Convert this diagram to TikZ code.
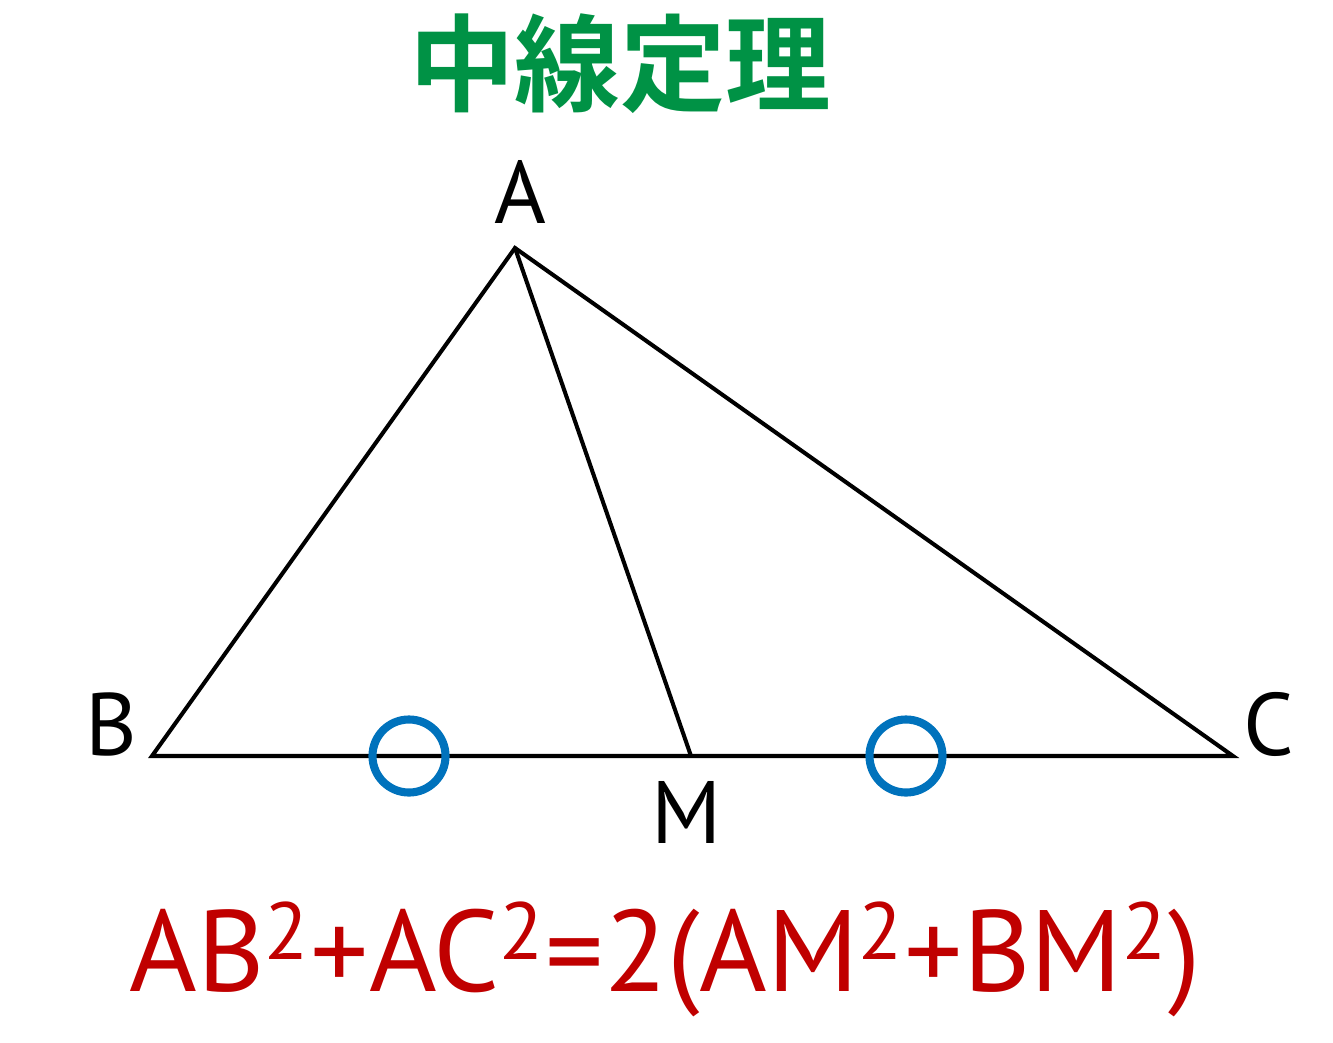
\documentclass[tikz,border=0pt]{standalone}
\usepackage{fontspec}
\setmainfont{PT Sans}
\newfontfamily\cjk{Noto Sans CJK JP}[BoldFont={* Bold}]
\definecolor{ttlgreen}{RGB}{0,146,69}
\definecolor{ringblue}{RGB}{0,114,188}
\definecolor{formred}{RGB}{192,0,0}
\tikzset{
  seg/.style={line width=1.15pt, line cap=round, line join=miter},
  ring/.style={draw=ringblue, line width=2.3pt, circle, minimum size=0.73cm, inner sep=0pt},
  lbl/.style={font=\fontsize{25.2pt}{30pt}\selectfont, inner sep=0pt, anchor=base},
}
\begin{document}
\begin{tikzpicture}[x=0.01cm,y=-0.01cm]
\useasboundingbox (0,0) rectangle (1333,1042);
\node[inner sep=0pt, text=ttlgreen, font=\cjk\bfseries\fontsize{30pt}{36pt}\selectfont] (title) at (620,64) {中線定理};
\coordinate (A) at (515,248);
\coordinate (B) at (152,756);
\coordinate (C) at (1233,756);
\coordinate (M) at (691,756);
\draw[seg] (B) -- (A) -- (C) -- cycle;
\draw[seg] (A) -- (M);
\node[ring] (r1) at (409,756) {};
\node[ring] (r2) at (906,756) {};
\node[lbl] (lA) at (520,223) {A};
\node[lbl] (lB) at (111,755) {B};
\node[lbl] (lC) at (1269,755) {C};
\node[lbl] (lM) at (687,843) {M};
\node[inner sep=0pt, anchor=base, text=formred, font=\fontsize{32.9pt}{40pt}\selectfont] (f) at (665,991)
  {AB\textsuperscript{2}+AC\textsuperscript{2}=2(AM\textsuperscript{2}+BM\textsuperscript{2})};
\end{tikzpicture}
\end{document}
